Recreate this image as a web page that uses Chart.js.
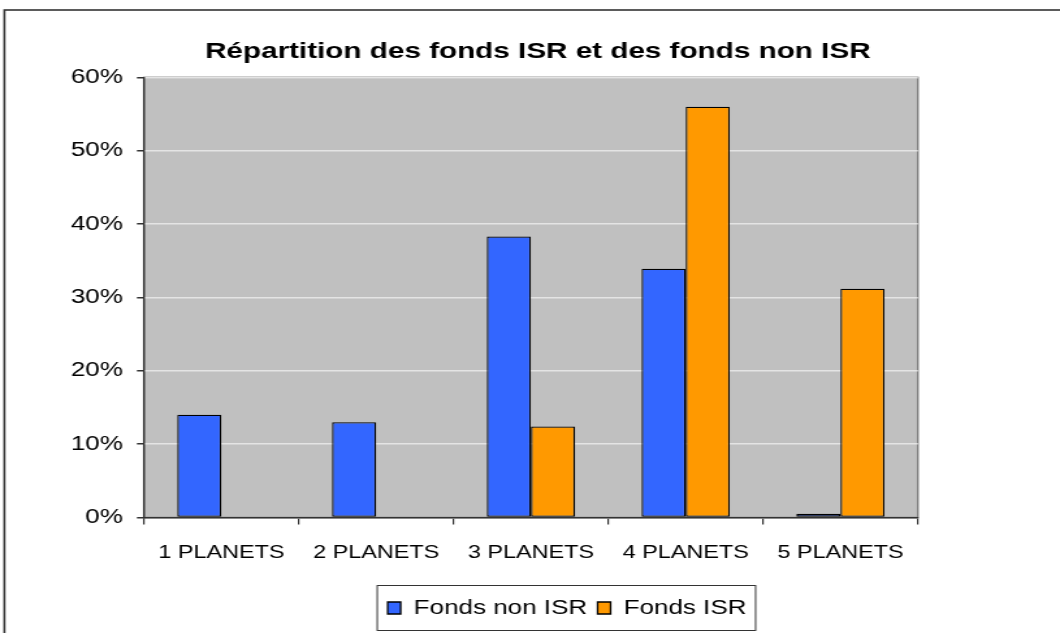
<!DOCTYPE html>
<html>
<head>
<meta charset="utf-8">
<script src="https://cdn.jsdelivr.net/npm/chart.js@4/dist/chart.umd.min.js"></script>
<style>
  html, body { margin: 0; padding: 0; background: #fff; overflow: hidden; }
  /* le graphique est dessiné sur 815 px puis étiré à 1060 px de large */
  #wrap { width: 815px; height: 633px; transform-origin: 0 0; transform: scaleX(1.30061); }
  canvas { display: block; }
</style>
</head>
<body>
<div id="wrap">
<canvas id="fondsChart" width="815" height="633" style="width:815px;height:633px"></canvas>
</div>
<script>
// Catégories et séries (en %)
const categories = ['1 PLANETS', '2 PLANETS', '3 PLANETS', '4 PLANETS', '5 PLANETS'];
const fondsNonIsr = [14.0, 13.0, 38.3, 33.9, 0.5];
const fondsIsr = [null, null, 12.4, 56.0, 31.2];
const yTicks = [0, 10, 20, 30, 40, 50, 60];

const FONT = '"Liberation Sans", Arial, sans-serif';

// Fond gris de la zone de tracé + cadre extérieur + cadre de la légende
const decor = {
    id: 'decor',
    afterLayout(chart) {
        // décale le titre et la légende
        const shift = (box, dx, dy) => {
            box.left += dx; box.right += dx;
            box.top += dy; box.bottom += dy;
        };
        shift(chart.titleBlock, 6, 2);
        shift(chart.legend, 28.5, -5);
    },
    beforeDraw(chart) {
        const { ctx, chartArea: a } = chart;
        ctx.save();
        ctx.fillStyle = '#fff';
        ctx.fillRect(0, 0, chart.width, chart.height);
        ctx.strokeStyle = '#333';
        ctx.lineWidth = 1.6;
        ctx.strokeRect(3.4, 10, 1000, 800);
        ctx.fillStyle = '#C0C0C0';
        ctx.fillRect(a.left, a.top, a.right - a.left, a.bottom - a.top);
        ctx.strokeStyle = '#808080';
        ctx.lineWidth = 1.5;
        ctx.strokeRect(a.left, a.top, a.right - a.left, a.bottom - a.top);
        ctx.restore();
    },
    afterDraw(chart) {
        const boxes = chart.legend.legendHitBoxes;
        if (!boxes || !boxes.length) return;
        const left = Math.min(...boxes.map(b => b.left)) - 8;
        const right = Math.max(...boxes.map(b => b.left + b.width)) + 7;
        const { ctx } = chart;
        ctx.save();
        ctx.strokeStyle = '#333';
        ctx.lineWidth = 1;
        ctx.strokeRect(left, 585.5, right - left, 45);
        ctx.restore();
    }
};

new Chart(document.getElementById('fondsChart'), {
    type: 'bar',
    data: {
        labels: categories,
        datasets: [{
            label: 'Fonds non ISR',
            data: fondsNonIsr,
            backgroundColor: '#3366FF',
            borderColor: '#000',
            borderWidth: 1.3,
            borderSkipped: false
        }, {
            label: 'Fonds ISR',
            data: fondsIsr,
            backgroundColor: '#FF9900',
            borderColor: '#000',
            borderWidth: 1.3,
            borderSkipped: false
        }]
    },
    options: {
        responsive: false,
        animation: false,
        layout: { padding: 0 },
        datasets: {
            bar: { categoryPercentage: 0.57, barPercentage: 1 }
        },
        scales: {
            x: {
                grid: {
                    offset: true,
                    drawOnChartArea: false,
                    drawTicks: true,
                    tickLength: 7,
                    tickColor: '#333',
                    lineWidth: 1.2
                },
                border: { color: '#333', width: 1.5 },
                ticks: {
                    color: '#000',
                    font: { family: FONT, size: 18 },
                    padding: 18,
                    maxRotation: 0
                },
                afterFit(scale) {
                    scale.height = 633 - 517.5 - scale.chart.legend.height;
                }
            },
            y: {
                min: 0,
                max: 60,
                afterBuildTicks(scale) {
                    scale.ticks = yTicks.map(v => ({ value: v }));
                },
                grid: {
                    color: '#E4E4E4',
                    lineWidth: 1.5,
                    tickLength: 5.4,
                    tickColor: '#333'
                },
                border: { color: '#333', width: 1.3 },
                ticks: {
                    color: '#000',
                    font: { family: FONT, size: 20 },
                    padding: 10.8,
                    callback: v => v + '%'
                },
                afterFit(scale) {
                    scale.width = 110.7;
                }
            },
            droite: {
                type: 'linear',
                position: 'right',
                display: true,
                grid: { display: false },
                border: { display: false },
                ticks: { display: false },
                afterFit(scale) {
                    scale.width = 109.3;
                }
            }
        },
        plugins: {
            title: {
                display: true,
                text: 'Répartition des fonds ISR et des fonds non ISR',
                color: '#000',
                font: { family: FONT, size: 22.8, weight: 'bold' },
                padding: { top: 36, bottom: 14 }
            },
            legend: {
                position: 'bottom',
                labels: {
                    color: '#000',
                    font: { family: FONT, size: 20 },
                    boxWidth: 10,
                    boxHeight: 12,
                    padding: 8
                }
            },
            tooltip: { enabled: false }
        }
    },
    plugins: [decor]
});
</script>
</body>
</html>
